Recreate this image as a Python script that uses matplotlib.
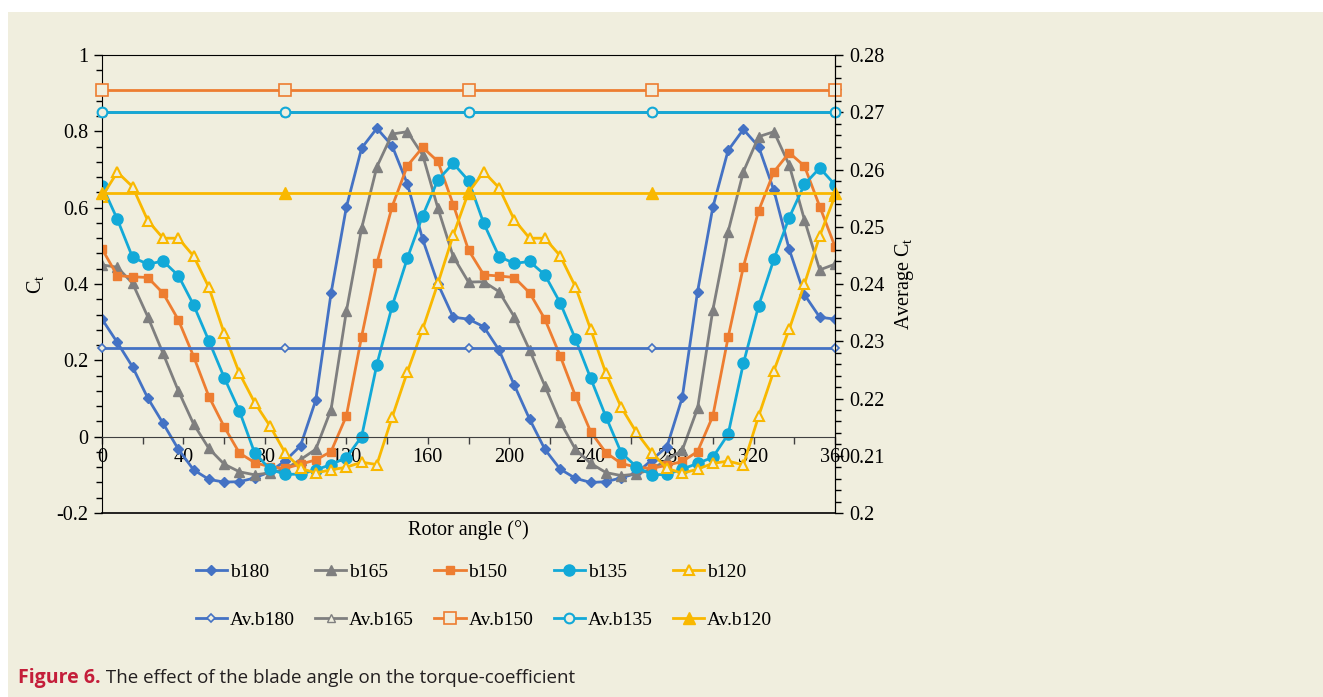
import numpy as np
import matplotlib.pyplot as plt
from matplotlib.patches import Rectangle
from matplotlib.ticker import MultipleLocator, FuncFormatter

plt.rcParams['font.family'] = ['Liberation Serif', 'DejaVu Serif']
plt.rcParams['mathtext.fontset'] = 'custom'
plt.rcParams['mathtext.rm'] = 'Liberation Serif'
plt.rcParams['mathtext.it'] = 'Liberation Serif:italic'

angle = np.arange(0, 367.5, 7.5)  # rotor angle, every 7.5 deg

b180 = [0.308, 0.247, 0.183, 0.101, 0.035, -0.033, -0.087, -0.112, -0.119, -0.118, -0.108, -0.092, -0.063,
        -0.024, 0.096, 0.376, 0.601, 0.756, 0.808, 0.762, 0.662, 0.517, 0.400, 0.313, 0.308,
        0.288, 0.227, 0.135, 0.046, -0.033, -0.085, -0.109, -0.120, -0.118, -0.108, -0.096, -0.061,
        -0.026, 0.103, 0.380, 0.601, 0.750, 0.805, 0.760, 0.645, 0.491, 0.372, 0.313, 0.308]
b165 = [0.450, 0.444, 0.402, 0.314, 0.218, 0.120, 0.033, -0.031, -0.072, -0.092, -0.100, -0.095, -0.085,
        -0.060, -0.033, 0.071, 0.328, 0.546, 0.707, 0.793, 0.799, 0.738, 0.598, 0.472, 0.405,
        0.406, 0.380, 0.314, 0.227, 0.133, 0.039, -0.033, -0.070, -0.094, -0.102, -0.098, -0.085,
        -0.061, -0.035, 0.074, 0.332, 0.537, 0.694, 0.786, 0.799, 0.712, 0.568, 0.437, 0.452]
b150 = [0.492, 0.422, 0.419, 0.417, 0.376, 0.306, 0.210, 0.105, 0.026, -0.043, -0.068, -0.079, -0.083,
        -0.072, -0.061, -0.039, 0.054, 0.262, 0.454, 0.603, 0.710, 0.758, 0.721, 0.608, 0.489,
        0.424, 0.421, 0.417, 0.377, 0.308, 0.212, 0.107, 0.013, -0.042, -0.070, -0.080, -0.083,
        -0.075, -0.065, -0.039, 0.054, 0.260, 0.445, 0.592, 0.694, 0.744, 0.709, 0.603, 0.498]
b135 = [0.658, 0.570, 0.470, 0.452, 0.460, 0.422, 0.345, 0.251, 0.155, 0.067, -0.043, -0.085, -0.099,
        -0.098, -0.087, -0.073, -0.055, 0.000, 0.189, 0.342, 0.468, 0.579, 0.673, 0.716, 0.671,
        0.559, 0.472, 0.454, 0.459, 0.424, 0.351, 0.256, 0.153, 0.052, -0.042, -0.079, -0.100,
        -0.099, -0.085, -0.070, -0.054, 0.006, 0.192, 0.343, 0.465, 0.574, 0.661, 0.704, 0.660]
b120 = [0.629, 0.693, 0.655, 0.566, 0.520, 0.520, 0.473, 0.391, 0.271, 0.166, 0.089, 0.028, -0.043,
        -0.083, -0.095, -0.087, -0.080, -0.067, -0.073, 0.051, 0.170, 0.282, 0.402, 0.528, 0.640,
        0.694, 0.652, 0.568, 0.520, 0.520, 0.474, 0.393, 0.281, 0.166, 0.077, 0.011, -0.042,
        -0.083, -0.096, -0.085, -0.070, -0.064, -0.074, 0.054, 0.173, 0.281, 0.400, 0.526, 0.631]

# average Ct (secondary axis), markers every 90 deg
av_angle = [0, 90, 180, 270, 360]
av_names = ['Av.b180', 'Av.b165', 'Av.b150', 'Av.b135', 'Av.b120']
av_ct = [0.2288, 0.2700, 0.2739, 0.2700, 0.2559]

names = ['b180', 'b165', 'b150', 'b135', 'b120']
series = [b180, b165, b150, b135, b120]
colors = ['#4472C4', '#7F7F7F', '#ED7D31', '#12A9D8', '#F9B800']
bg = '#F0EEDE'

fig = plt.figure(figsize=(13.23, 6.97), dpi=100, facecolor='white')
fig.patches.append(Rectangle((8 / 1323, 0), 1, 1 - 12 / 697, transform=fig.transFigure,
                             facecolor=bg, edgecolor='none', zorder=-10))

ax = fig.add_axes([102 / 1323, 1 - 513 / 697, 733 / 1323, 458 / 697])
ax.set_facecolor('none')
ax2 = ax.twinx()

mk = [dict(marker='D', ms=5, mfc=colors[0]),
      dict(marker='^', ms=6.5, mfc=colors[1]),
      dict(marker='s', ms=6, mfc=colors[2]),
      dict(marker='o', ms=8, mfc=colors[3]),
      dict(marker='^', ms=7.5, mfc=bg, mew=1.5)]
handles = []
for nm, s, c, m in zip(names, series, colors, mk):
    h, = ax.plot(angle, s, color=c, lw=2, mec=c, label=nm, **m)
    handles.append(h)

mk_av = [dict(marker='D', ms=4.5, mfc=bg, mew=1.2),
         dict(marker='^', ms=5.5, mfc=bg, mew=1.0),
         dict(marker='s', ms=8, mfc=bg, mew=1.2),
         dict(marker='o', ms=7, mfc=bg, mew=1.5),
         dict(marker='^', ms=8, mfc=colors[4])]
av_handles = []
for nm, v, c, m in zip(av_names, av_ct, colors, mk_av):
    h, = ax2.plot(av_angle, [v] * len(av_angle), color=c, lw=2, mec=c, label=nm,
                  clip_on=False, **m)
    av_handles.append(h)

ax.set_xlim(0, 360)
ax.set_ylim(-0.2, 1)
ax2.set_ylim(0.2, 0.28)

ax.spines['bottom'].set_position(('data', 0))
ax.spines['bottom'].set_color('#404040')
for sp in ['left', 'top', 'right']:
    ax.spines[sp].set_color('black')
ax2.spines['right'].set_color('black')
ax2.spines['top'].set_visible(False)
ax2.spines['left'].set_visible(False)
ax2.spines['bottom'].set_visible(False)
ax.axhline(-0.2, color='black', lw=1.2, clip_on=False, zorder=5)

ax.xaxis.set_major_locator(MultipleLocator(40))
ax.xaxis.set_minor_locator(MultipleLocator(20))
ax.yaxis.set_major_locator(MultipleLocator(0.2))
ax.yaxis.set_minor_locator(MultipleLocator(0.04))
ax2.yaxis.set_major_locator(MultipleLocator(0.01))
ax2.yaxis.set_minor_locator(MultipleLocator(0.002))
ax.yaxis.set_major_formatter(FuncFormatter(lambda v, p: '%g' % round(v, 2)))
ax2.yaxis.set_major_formatter(FuncFormatter(lambda v, p: '%g' % round(v, 3)))

ax.tick_params(axis='x', which='both', direction='out', length=5, width=1, color='#404040',
               labelsize=14.5, pad=3)
ax.tick_params(axis='y', which='major', direction='out', length=6, width=1, labelsize=14.5, pad=4)
ax.tick_params(axis='y', which='minor', direction='out', length=4, width=1)
ax2.tick_params(axis='y', which='major', direction='out', length=6, width=1, labelsize=14.5, pad=4)
ax2.tick_params(axis='y', which='minor', direction='out', length=4, width=1)

fig.text(35 / 1323, 1 - 284 / 697, r'C$_\mathrm{t}$', rotation=90, ha='center', va='center', fontsize=14.5)
fig.text(905 / 1323, 1 - 284 / 697, r'Average C$_\mathrm{t}$', rotation=90, ha='center', va='center',
         fontsize=14.5)
fig.text(468 / 1323, 1 - 530 / 697, 'Rotor angle (°)', ha='center', va='center', fontsize=14.5)

order = []
for h1, h2 in zip(handles, av_handles):
    order += [h1, h2]
fig.legend(order, [h.get_label() for h in order], ncol=5, loc='center',
           bbox_to_anchor=(484 / 1323, 1 - 596 / 697), frameon=False, fontsize=14,
           handlelength=1.6, handletextpad=0.15, columnspacing=1.05, labelspacing=1.55)

t1 = fig.text(18 / 1323, 1 - 678 / 697, 'Figure 6.', color='#C41E3A', fontweight='bold',
              fontsize=14, family='Open Sans', va='center')
ax.annotate(' The effect of the blade angle on the torque-coefficient', xy=(1, 0.5), xycoords=t1,
            va='center', ha='left', fontsize=13.5, family='Open Sans', color='#231F20',
            annotation_clip=False)

fig.savefig('out.png', dpi=100, facecolor=fig.get_facecolor())
